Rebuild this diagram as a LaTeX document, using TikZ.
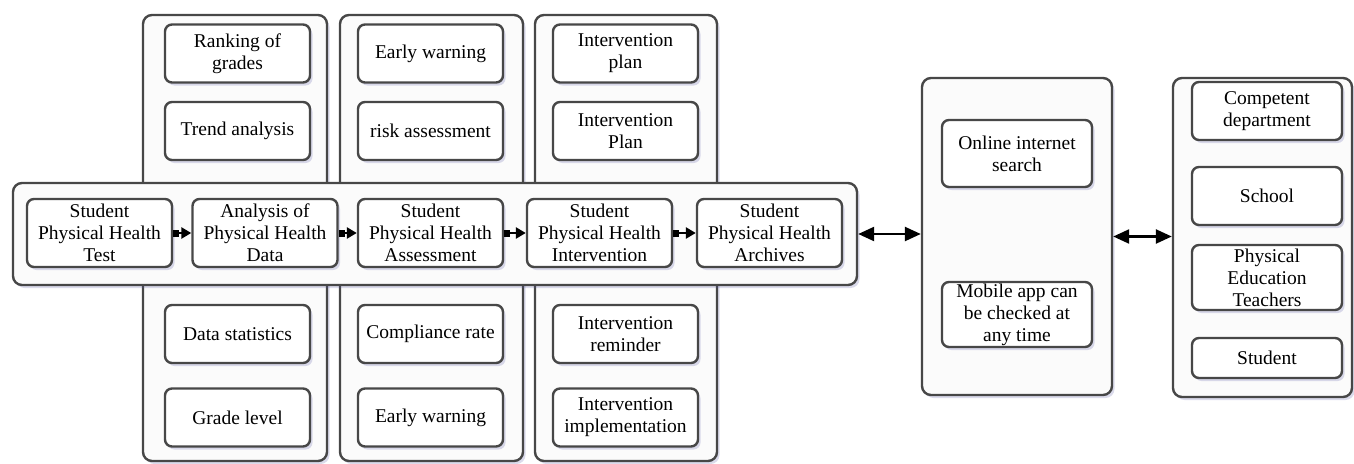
\documentclass[tikz,border=0pt]{standalone}
\usepackage{fontspec}
\setmainfont{Liberation Serif}
\newfontfamily\tnr{Liberation Serif}
\usetikzlibrary{arrows.meta,shadows}
\begin{document}
\begin{tikzpicture}[x=1pt,y=-1pt,
  shad/.style={drop shadow={shadow xshift=2.5pt,shadow yshift=-3pt,opacity=0.22,fill=blue!30!gray}},
  panel/.style={draw=black!72,line width=2.4pt,rounded corners=9pt,fill=gray!3,shad,inner sep=0pt},
  box/.style={draw=black!72,line width=2.4pt,rounded corners=7pt,fill=white,shad,inner sep=0pt,
    align=center,font=\tnr\fontsize{19.5}{22}\selectfont,minimum width=145pt,minimum height=58pt},
  flowarrow/.style={line width=2.6pt,black,{Square[length=6pt,width=7pt]}-{Triangle[length=10pt,width=11pt]}},
  biarrow/.style={line width=2.4pt,black,{Triangle[length=16pt,width=14pt]}-{Triangle[length=16pt,width=14pt]}}]
\useasboundingbox (0,0) rectangle (1354,463);
% column containers
\node[panel,minimum width=184pt,minimum height=446pt] (c1) at (235,238) {};
\node[panel,minimum width=183pt,minimum height=446pt] (c2) at (431.5,238) {};
\node[panel,minimum width=182pt,minimum height=446pt] (c3) at (626,238) {};
% column boxes
\node[box] (a1) at (237.5,53.5) {Ranking of\\grades};
\node[box] (a2) at (237.5,131) {Trend analysis};
\node[box] (a3) at (237.5,334) {Data statistics};
\node[box] (a4) at (237.5,417.5) {Grade level};
\node[box] (b1) at (430.5,53.5) {Early warning};
\node[box] (b2) at (430.5,131) {risk assessment};
\node[box] (b3) at (430.5,334) {Compliance rate};
\node[box] (b4) at (430.5,417.5) {Early warning};
\node[box] (d1) at (625.5,53.5) {Intervention\\plan};
\node[box] (d2) at (625.5,131) {Intervention\\Plan};
\node[box] (d3) at (625.5,334) {Intervention\\reminder};
\node[box] (d4) at (625.5,417.5) {Intervention\\implementation};
% main container
\node[panel,minimum width=844pt,minimum height=102pt] (main) at (435,234) {};
\node[box,minimum height=68pt] (f1) at (99.5,233) {Student\\Physical Health\\Test};
\node[box,minimum height=68pt] (f2) at (265,233) {Analysis of\\Physical Health\\Data};
\node[box,minimum height=68pt] (f3) at (430.5,233) {Student\\Physical Health\\Assessment};
\node[box,minimum height=68pt] (f4) at (599.5,233) {Student\\Physical Health\\Intervention};
\node[box,minimum height=68pt] (f5) at (769.5,233) {Student\\Physical Health\\Archives};
\draw[flowarrow] (f1.east) -- (f2.west);
\draw[flowarrow] (f2.east) -- (f3.west);
\draw[flowarrow] (f3.east) -- (f4.west);
\draw[flowarrow] (f4.east) -- (f5.west);
% middle panel
\node[panel,minimum width=190pt,minimum height=317pt] (mid) at (1017,236.5) {};
\node[box,minimum width=150pt,minimum height=67pt] (m1) at (1017,153.5) {Online internet\\search};
\node[box,minimum width=150pt,minimum height=65pt] (m2) at (1017,314.5) {Mobile app can\\be checked at\\any time};
% right panel
\node[panel,minimum width=179pt,minimum height=319pt] (rp) at (1262.5,237.5) {};
\node[box,minimum width=150pt,minimum height=58pt] (r1) at (1267,111) {Competent\\department};
\node[box,minimum width=150pt,minimum height=58pt] (r2) at (1267,196) {School};
\node[box,minimum width=150pt,minimum height=65pt] (r3) at (1267,277.5) {Physical\\Education\\Teachers};
\node[box,minimum width=150pt,minimum height=40pt] (r4) at (1267,358) {Student};
% double arrows
\draw[biarrow] (main.east) -- (main.east -| mid.west);
\draw[biarrow] (mid.east) -- (mid.east -| rp.west);
\end{tikzpicture}
\end{document}
